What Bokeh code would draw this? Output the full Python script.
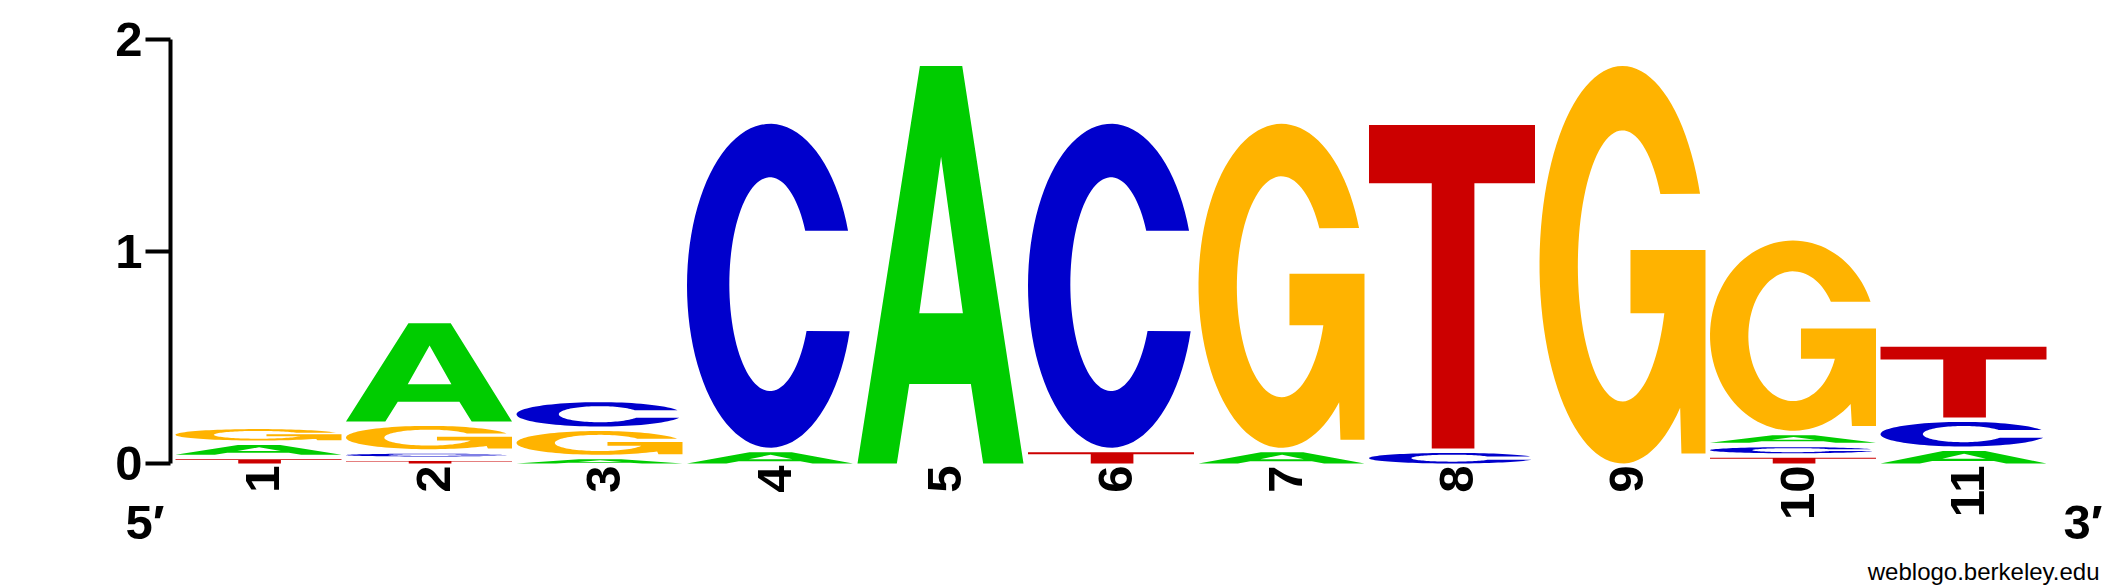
import numpy as np
from bokeh.plotting import figure
from bokeh.models import ColumnDataSource, FixedTicker, Range1d
from bokeh.core.properties import value
from bokeh.embed import file_html
from bokeh.resources import INLINE

# ---------------- data (bits per base at each position) ----------------
positions = [1, 2, 3, 4, 5, 6, 7, 8, 9, 10, 11]
pos_labels = ["1", "2", "3", "4", "5", "6", "7", "8", "9", "10", "11"]
bits_A = [0.046, 0.463, 0.020, 0.053, 1.875, 0.0, 0.053, 0.0, 0.0, 0.035, 0.059]
bits_C = [0.0, 0.013, 0.115, 1.528, 0.0, 1.528, 0.0, 0.050, 0.0, 0.029, 0.116]
bits_G = [0.054, 0.110, 0.112, 0.0, 0.0, 0.0, 1.528, 0.0, 1.875, 0.897, 0.0]
bits_T = [0.020, 0.012, 0.0, 0.0, 0.0, 0.053, 0.0, 1.525, 0.0, 0.027, 0.333]
y_ticks = [0, 1, 2]
end_labels = ["5\u2032", "3\u2032"]
credit = "weblogo.berkeley.edu"
letter_colors = {"A": "#00CC00", "C": "#0000CC", "G": "#FFB300", "T": "#CC0000"}

# ---------------- layout constants (pixels) ----------------
W, H = 2125, 588
FRAME_L, FRAME_T = 100, 10
AXIS_PX = 170         # canvas x of the y axis line
PX_X = 170.5          # pixels per position
PX_Y = 212.0          # pixels per bit
COL1_PX = 258         # canvas x of position 1 centre
ZERO_PX = 463         # canvas y of 0 bits
LETTER_W = 166 / PX_X
GAP = 4.5 / PX_Y

x0 = 1 - (COL1_PX - FRAME_L) / PX_X
x1 = x0 + (W - FRAME_L) / PX_X
y1 = (ZERO_PX - FRAME_T) / PX_Y
y0 = (ZERO_PX - H) / PX_Y

def px_to_x(px):
    return x0 + (px - FRAME_L) / PX_X

def px_to_y(py):
    return (ZERO_PX - py) / PX_Y

# ---------------- glyph outlines in a unit box ----------------
def ell(cx, cy, rx, ry, a0, a1, n=90):
    t = np.radians(np.linspace(a0, a1, n))
    return list(cx + rx * np.cos(t)), list(cy + ry * np.sin(t))

def shape(letter):
    if letter == "A":
        ox = [0, 0.376, 0.631, 1, 0.757, 0.683, 0.312, 0.237]
        oy = [0, 1, 1, 0, 0, 0.2, 0.2, 0]
        hx = [0.372, 0.5035, 0.635]
        hy = [0.378, 0.772, 0.378]
        return [(ox, oy), (hx, hy)]
    if letter == "T":
        ox = [0, 1, 1, 0.635, 0.635, 0.378, 0.378, 0]
        oy = [1, 1, 0.82, 0.82, 0, 0, 0.82, 0.82]
        return [(ox, oy)]
    if letter == "C":
        ax, ay = ell(0.5, 0.5, 0.5, 0.5, 19.9, 343.7)
        bx, by = ell(0.5, 0.505, 0.245, 0.33, 334, 30)
        return [(ax + bx, ay + by)]
    if letter == "G":
        ax, ay = ell(0.5, 0.5, 0.5, 0.5, 20.9, 314)
        mx = [0.855, 1.0, 1.0, 0.548, 0.548, 0.752]
        my = [0.025, 0.025, 0.537, 0.537, 0.378, 0.378]
        bx, by = ell(0.5, 0.497, 0.269, 0.341, -20.4, -328)
        return [(ax + mx + bx, ay + my + by)]

# ---------------- build stacked letters ----------------
xs, ys, cols = [], [], []
for i, pos in enumerate(positions):
    col = [("A", bits_A[i]), ("C", bits_C[i]), ("G", bits_G[i]), ("T", bits_T[i])]
    col = sorted([c for c in col if c[1] > 0], key=lambda c: c[1])
    base = 0.0
    for letter, h in col:
        left = pos - LETTER_W / 2
        rings_x, rings_y = [], []
        for ux, uy in shape(letter):
            rings_x.append([left + u * LETTER_W for u in ux])
            rings_y.append([base + v * h for v in uy])
        xs.append([rings_x])
        ys.append([rings_y])
        cols.append(letter_colors[letter])
        base += h + GAP

src = ColumnDataSource(dict(xs=xs, ys=ys, color=cols))

p = figure(width=W, height=H, output_backend="svg", toolbar_location=None,
           x_range=Range1d(x0, x1), y_range=Range1d(y0, y1),
           x_axis_type=None, min_border_left=FRAME_L, min_border_right=0,
           min_border_top=FRAME_T, min_border_bottom=0)
p.outline_line_color = None
p.grid.visible = False
p.background_fill_color = "white"
p.border_fill_color = "white"

p.multi_polygons(xs="xs", ys="ys", fill_color="color", line_color=None, source=src)

ax = p.yaxis[0]
ax.fixed_location = px_to_x(AXIS_PX)
ax.ticker = FixedTicker(ticks=y_ticks)
ax.bounds = (0, 2)
ax.axis_line_width = 4
ax.axis_line_color = "black"
ax.major_tick_line_width = 4
ax.major_tick_out = 25
ax.major_tick_in = 0
ax.minor_tick_line_color = None
ax.major_label_standoff = 3
ax.major_label_text_font = "Liberation Sans"
ax.major_label_text_font_style = "bold"
ax.major_label_text_font_size = "49px"
ax.major_label_text_color = "black"

# position numbers, rotated
lab_src = ColumnDataSource(dict(x=positions, y=[px_to_y(465)] * len(positions), text=pos_labels))
p.text(x="x", y="y", text="text", source=lab_src, angle=np.pi / 2,
       text_align="right", text_baseline="middle", x_offset=4,
       text_font=value("Liberation Sans"), text_font_style="bold",
       text_font_size="49px", text_color="black")

# 5' / 3' ends
end_src = ColumnDataSource(dict(x=[px_to_x(125), px_to_x(2063)],
                                y=[px_to_y(521)] * 2, text=end_labels))
p.text(x="x", y="y", text="text", source=end_src,
       text_align="left", text_baseline="middle",
       text_font=value("Liberation Sans"), text_font_style="bold",
       text_font_size="49px", text_color="black")

# credit line
cr_src = ColumnDataSource(dict(x=[px_to_x(2099)], y=[px_to_y(571)], text=[credit]))
p.text(x="x", y="y", text="text", source=cr_src,
       text_align="right", text_baseline="middle",
       text_font=value("Liberation Sans"), text_font_size="24px", text_color="black")

open("out.html", "w").write(file_html(p, INLINE))
